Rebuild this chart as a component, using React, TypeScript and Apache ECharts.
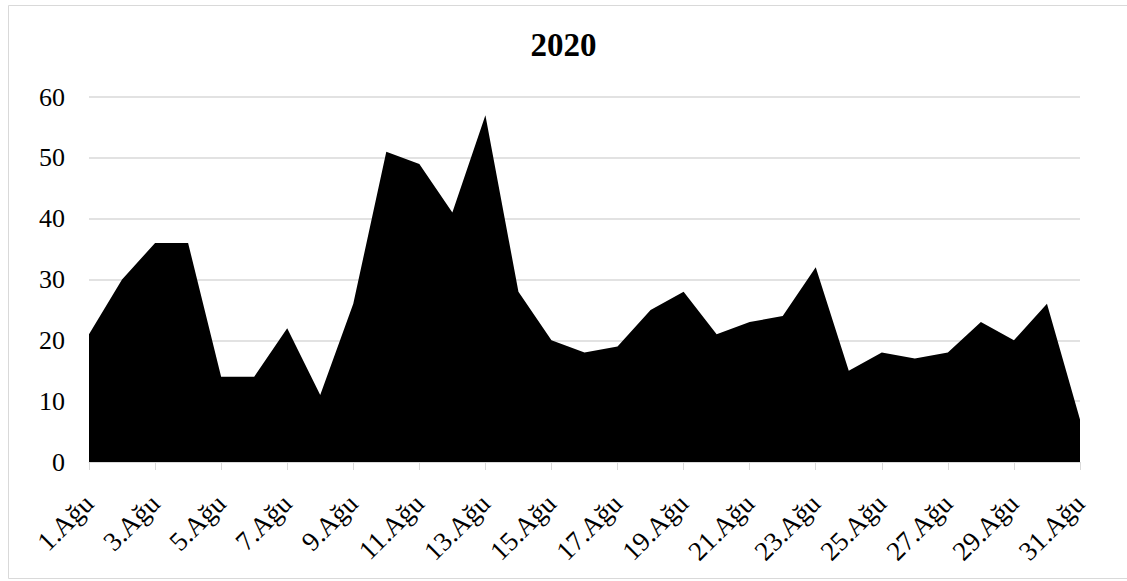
import React, { useEffect, useRef } from "react";
import * as echarts from "echarts";

// Daily counts for August 2020
const days: string[] = Array.from({ length: 31 }, (_, i) => `${i + 1}.Ağu`);
const counts: number[] = [
  21, 30, 36, 36, 14, 14, 22, 11, 26, 51, 49, 41, 57, 28, 20, 18,
  19, 25, 28, 21, 23, 24, 32, 15, 18, 17, 18, 23, 20, 26, 7,
];
const chartTitle = "2020";

const SERIF = "'Liberation Serif', 'Times New Roman', serif";

export default function App() {
  const ref = useRef<HTMLDivElement>(null);

  useEffect(() => {
    if (!ref.current) return;
    const chart = echarts.init(ref.current, undefined, { renderer: "svg" });
    chart.setOption({
      animation: false,
      backgroundColor: "#ffffff",
      title: {
        text: chartTitle,
        left: "center",
        top: 23,
        textStyle: {
          fontFamily: SERIF,
          fontWeight: "bold",
          fontSize: 33,
          color: "#000",
        },
      },
      graphic: [
        {
          type: "rect",
          shape: { x: 8.5, y: 5.5, width: 1130, height: 573 },
          style: { fill: "none", stroke: "#d9d9d9", lineWidth: 1 },
          silent: true,
        },
      ],
      grid: { left: 89, right: 47, top: 97, bottom: 119 },
      xAxis: {
        type: "category",
        data: days,
        boundaryGap: false,
        axisLine: { lineStyle: { color: "#d9d9d9", width: 1 } },
        axisTick: {
          show: true,
          interval: 1,
          length: 8,
          lineStyle: { color: "#d9d9d9" },
        },
        axisLabel: {
          interval: 1,
          rotate: 45,
          margin: 37,
          fontFamily: SERIF,
          fontSize: 27,
          color: "#000",
        },
        splitLine: { show: false },
      },
      yAxis: {
        type: "value",
        min: 0,
        max: 60,
        interval: 10,
        axisLine: { show: false },
        axisTick: { show: false },
        axisLabel: {
          margin: 24,
          fontFamily: SERIF,
          fontSize: 26,
          color: "#000",
        },
        splitLine: { lineStyle: { color: "#d9d9d9", width: 1.5 } },
      },
      series: [
        {
          type: "line",
          data: counts,
          symbol: "none",
          lineStyle: { width: 0, color: "#000" },
          areaStyle: { color: "#000", opacity: 1 },
          z: 3,
        },
      ],
    });
    return () => chart.dispose();
  }, []);

  return (
    <div
      ref={ref}
      style={{ position: "absolute", left: 0, top: 0, width: 1127, height: 581 }}
    />
  );
}
